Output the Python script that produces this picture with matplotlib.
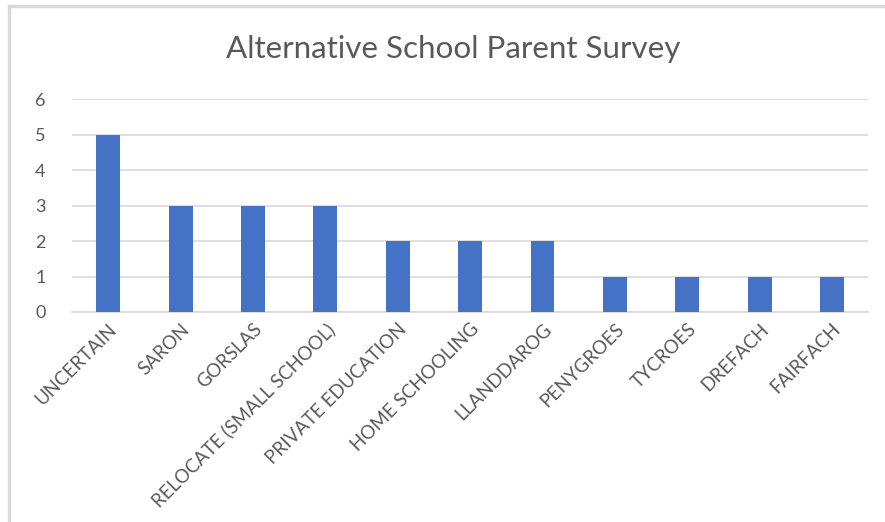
import matplotlib
matplotlib.use("Agg")
import matplotlib.pyplot as plt
from matplotlib.lines import Line2D

# data
categories = ["UNCERTAIN", "SARON", "GORSLAS", "RELOCATE (SMALL SCHOOL)",
              "PRIVATE EDUCATION", "HOME SCHOOLING", "LLANDDAROG",
              "PENYGROES", "TYCROES", "DREFACH", "FAIRFACH"]
counts = [5, 3, 3, 3, 2, 2, 2, 1, 1, 1, 1]
yticks = [0, 1, 2, 3, 4, 5, 6]

plt.rcParams['font.family'] = ['Lato', 'DejaVu Sans']

fig = plt.figure(figsize=(8.85, 5.22), dpi=100)
ax = fig.add_axes([0.0814, 0.4023, 0.8996, 0.408])

x = list(range(len(categories)))
ax.bar(x, counts, width=0.33, color="#4472C4", zorder=3)

ax.set_xlim(-0.5, len(categories) - 0.5)
ax.set_ylim(0, 6)
ax.set_yticks(yticks)
ax.set_yticklabels([str(t) for t in yticks], fontsize=13, color="#595959")
ax.set_xticks(x)
ax.set_xticklabels(categories, rotation=45, ha="right", rotation_mode="anchor",
                   fontsize=13.5, color="#595959")
ax.tick_params(axis="both", length=0)
ax.tick_params(axis="y", pad=19)
ax.tick_params(axis="x", pad=6)

ax.grid(axis="y", color="#d9d9d9", linewidth=1.2, zorder=0)
for s in ["top", "right", "left"]:
    ax.spines[s].set_visible(False)
ax.spines["bottom"].set_color("#d9d9d9")
ax.spines["bottom"].set_linewidth(1.2)

fig.text(0.512, 0.907, "Alternative School Parent Survey", ha="center", va="center",
         fontsize=22.6, color="#595959")

# light border round the chart (top and left edges only visible)
fig.add_artist(Line2D([9/885, 1.0], [1 - 6/522, 1 - 6/522], color="#d9d9d9", linewidth=2.5))
fig.add_artist(Line2D([9/885, 9/885], [0, 1 - 6/522], color="#d9d9d9", linewidth=2.5))

fig.savefig("out.png", dpi=100, facecolor="white")
